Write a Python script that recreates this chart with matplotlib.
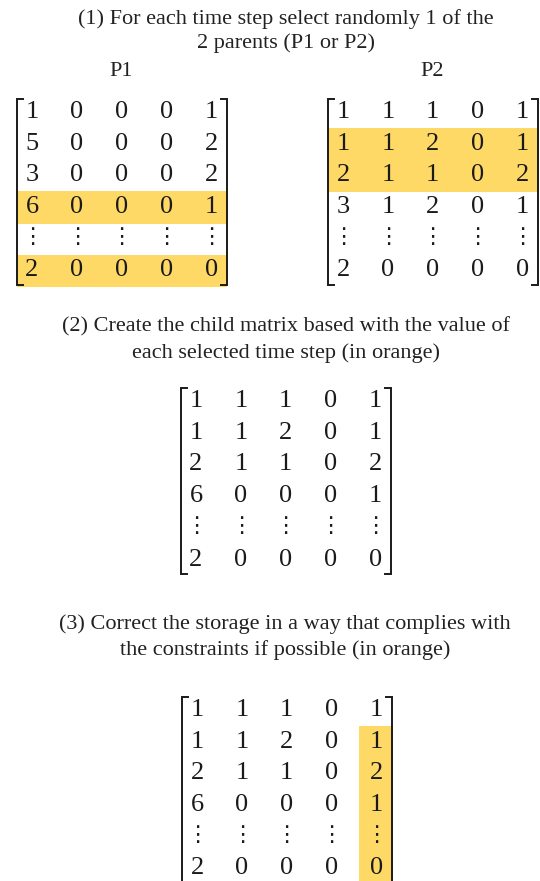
import matplotlib
matplotlib.use("Agg")
import matplotlib.pyplot as plt
from matplotlib.patches import Rectangle

DOTS = "\u22ee"

p1 = [["1", "0", "0", "0", "1"],
      ["5", "0", "0", "0", "2"],
      ["3", "0", "0", "0", "2"],
      ["6", "0", "0", "0", "1"],
      [DOTS] * 5,
      ["2", "0", "0", "0", "0"]]
p2 = [["1", "1", "1", "0", "1"],
      ["1", "1", "2", "0", "1"],
      ["2", "1", "1", "0", "2"],
      ["3", "1", "2", "0", "1"],
      [DOTS] * 5,
      ["2", "0", "0", "0", "0"]]
child = [["1", "1", "1", "0", "1"],
         ["1", "1", "2", "0", "1"],
         ["2", "1", "1", "0", "2"],
         ["6", "0", "0", "0", "1"],
         [DOTS] * 5,
         ["2", "0", "0", "0", "0"]]
corrected = child

p1_rows_hl = [3, 5]
p2_rows_hl = [1, 2]
corr_col_hl = 4
corr_rows_hl = [1, 2, 3, 4, 5]

captions = [
    "(1) For each time step select randomly 1 of the\n2 parents (P1 or P2)",
    "(2) Create the child matrix based with the value of\neach selected time step (in orange)",
    "(3) Correct the storage in a way that complies with\nthe constraints if possible (in orange)",
]

ORANGE = "#FFD966"
INK = "#1a1a1a"
SERIF = ["Liberation Serif", "DejaVu Sans"]
ROW = 31.7
COL = 44.8


def draw_matrix(ax, m, x0, y0, hl_rows=(), hl_col=None, hl_col_rows=()):
    n_rows, n_cols = len(m), len(m[0])
    left = x0 - 15
    right = x0 + (n_cols - 1) * COL + 16
    top = y0 - 13
    bottom = y0 + (n_rows - 1) * ROW + 14
    for r in hl_rows:
        ax.add_patch(Rectangle((left, y0 + r * ROW - 16), right - left, ROW + 1,
                               color=ORANGE, lw=0, zorder=0))
    if hl_col is not None:
        cx = x0 + hl_col * COL
        r0, r1 = min(hl_col_rows), max(hl_col_rows)
        ax.add_patch(Rectangle((cx - 17, y0 + r0 * ROW - 16), 34,
                               (r1 - r0 + 1) * ROW + 1,
                               color=ORANGE, lw=0, zorder=0))
    for i, row in enumerate(m):
        for j, v in enumerate(row):
            dots = v == DOTS
            ax.text(x0 + j * COL, y0 + i * ROW, v, ha="center", va="center",
                    fontsize=16 if dots else 19, family=SERIF, color=INK, zorder=2)
    # brackets
    tick = 6
    ax.plot([left + tick, left, left, left + tick], [top, top, bottom, bottom],
            color=INK, lw=1.4, zorder=3, solid_joinstyle="miter")
    ax.plot([right - tick, right, right, right - tick], [top, top, bottom, bottom],
            color=INK, lw=1.4, zorder=3, solid_joinstyle="miter")


fig = plt.figure(figsize=(5.4, 8.81), dpi=100)
ax = fig.add_axes([0, 0, 1, 1])
ax.set_xlim(0, 540)
ax.set_ylim(881, 0)
ax.axis("off")

cap_kw = dict(ha="center", va="center", fontsize=16, family=SERIF, color="#222222")
ax.text(286, 31, captions[0], linespacing=1.3, **cap_kw)
ax.text(121, 71, "P1", **cap_kw)
ax.text(432, 71, "P2", **cap_kw)
draw_matrix(ax, p1, 32, 112, hl_rows=p1_rows_hl)
draw_matrix(ax, p2, 343, 112, hl_rows=p2_rows_hl)

ax.text(286, 340, captions[1], linespacing=1.5, **cap_kw)
draw_matrix(ax, child, 196, 401)

ax.text(285, 637, captions[2], linespacing=1.4, **cap_kw)
draw_matrix(ax, corrected, 197, 710, hl_col=corr_col_hl, hl_col_rows=corr_rows_hl)

fig.savefig("out.png", dpi=100)
